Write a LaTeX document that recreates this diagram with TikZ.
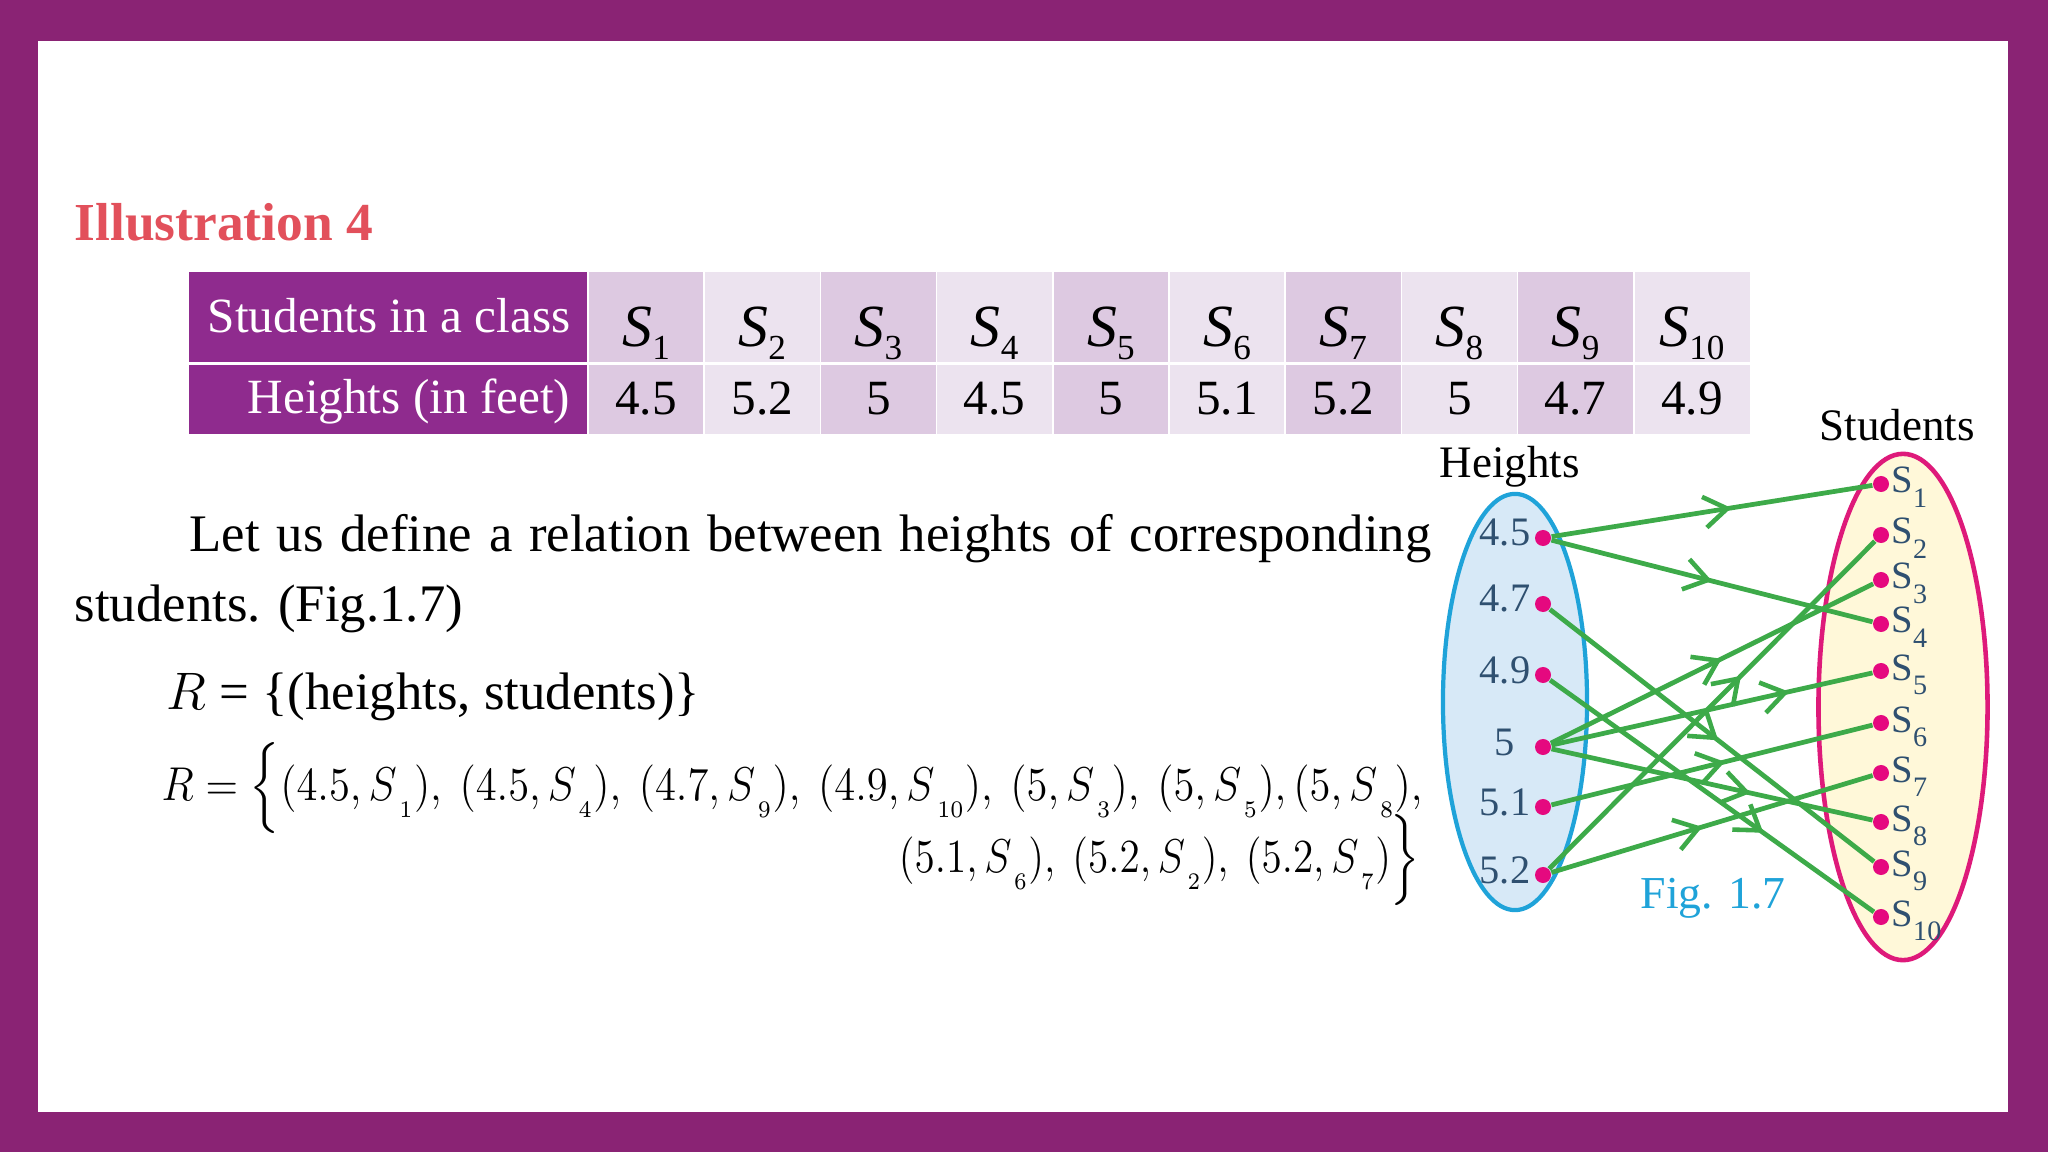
\RequirePackage{fix-cm}
\documentclass[tikz,border=0pt]{standalone}
\usepackage[no-math]{fontspec}
\setmainfont{Liberation Serif}
\usepackage{amsmath}
\usepackage{graphicx}
\usepackage{tikz}
\usetikzlibrary{positioning, calc, shapes.geometric, arrows.meta, decorations.markings}

\definecolor{frame}{HTML}{8A2374}
\definecolor{headpurple}{HTML}{8F2B8E}
\definecolor{lavdark}{HTML}{DDC9E1}
\definecolor{lavlight}{HTML}{ECE3EF}
\definecolor{titlered}{HTML}{E2505B}
\definecolor{relgreen}{HTML}{3DAA49}
\definecolor{dotpink}{HTML}{E5097F}
\definecolor{setblue}{HTML}{1FA3D9}
\definecolor{setbluefill}{HTML}{D7E9F7}
\definecolor{setpink}{HTML}{DE1A7A}
\definecolor{setyellow}{HTML}{FFF8D9}
\definecolor{slate}{HTML}{2F5070}

\newcommand{\tabS}[1]{\textit{S}\raisebox{-3.5pt}{\fontsize{10}{12}\selectfont #1}}
\newcommand{\setS}[1]{S\raisebox{-4pt}{\fontsize{8}{9}\selectfont #1}}
\newcommand{\relS}[1]{S_{\mkern3mu\raisebox{-3pt}{$\scriptscriptstyle #1$}}}

\begin{document}
\begin{tikzpicture}[
  x=0.01cm, y=-0.01cm,
  every node/.style={inner sep=0pt},
  headtext/.style={text=white, anchor=base east, font=\fontsize{14}{16}\selectfont},
  celltext/.style={anchor=base, font=\fontsize{14}{16}\selectfont},
  bodytext/.style={anchor=base west, font=\fontsize{15}{18}\selectfont},
  dot/.style={circle, fill=dotpink, minimum size=0.16cm},
  hlabel/.style={text=slate, anchor=base, font=\fontsize{11.5}{13}\selectfont},
  slabel/.style={text=slate, anchor=base west, font=\fontsize{11}{13}\selectfont},
  settitle/.style={anchor=base west, font=\fontsize{12.8}{15}\selectfont},
  rel/.style={
    relgreen,
    line width=1.35pt,
    postaction={decorate},
    decoration={markings,
      mark=at position #1 with {\arrow{Straight Barb[length=2.3mm, width=3.1mm, line width=1.3pt]}}},
  },
]
\useasboundingbox (0,0) rectangle (2048,1152);
% --- slide frame ---
\fill[frame] (0,0) rectangle (2048,1152);
\fill[white] (38,41) rectangle (2008,1112);

% --- heading ---
\node[anchor=base west, text=titlered, font=\fontsize{15.2}{18}\selectfont\bfseries] (title) at (74,241) {Illustration 4};

% --- table ---
\fill[headpurple] (189,272) rectangle (588,434);
\node[headtext] (hdrStudents) at (571,333) {Students in a class};
\node[headtext] (hdrHeights) at (571,414) {Heights (in feet)};
\foreach \i/\h in {1/4.5, 2/5.2, 3/5, 4/4.5, 5/5, 6/5.1, 7/5.2, 8/5, 9/4.7, 10/4.9} {
  \pgfmathsetmacro{\xl}{588+(\i-1)*116.2}
  \pgfmathtruncatemacro{\odd}{mod(\i,2)}
  \ifnum\odd=1 \colorlet{cellfill}{lavdark}\else\colorlet{cellfill}{lavlight}\fi
  \fill[cellfill] (\xl,272) rectangle ++(116.2,162);
  \draw[white, line width=0.5pt] (\xl,272) -- ++(0,162);
  \node[celltext, font=\fontsize{17}{19}\selectfont] (cS\i) at (\xl+58.1,347) {\tabS{\i}};
  \node[celltext] (cH\i) at (\xl+58.1,415) {\h};
}
\draw[white, line width=0.8pt] (189,363.5) -- (1750,363.5);

% --- text ---
\node[bodytext] (para1) at (189,551) {\makebox[12.41cm][s]{Let us define a relation between heights of corresponding}};
\node[bodytext] (para2) at (74,622) {students. (Fig.1.7)};
\node[bodytext] (rdef) at (166,709) {$R$ = \{(heights, students)\}};
% the set is squeezed sideways to the printed line length
\node[bodytext, font=\fontsize{13.5}{16}\selectfont] (rsetA) at (161,800) {\resizebox{12.6cm}{\height}{$R = \smash{\Bigl\{}(4.5,\relS{1}),\ (4.5,\relS{4}),\ (4.7,\relS{9}),\ (4.9,\relS{10}),\ (5,\relS{3}),\ (5,\relS{5}),(5,\relS{8}),$}};
\node[anchor=base east, font=\fontsize{13.5}{16}\selectfont] (rsetB) at (1421,872) {\resizebox{5.21cm}{\height}{$(5.1,\relS{6}),\ (5.2,\relS{2}),\ (5.2,\relS{7})\smash{\Bigr\}}$}};

% --- arrow diagram: heights -> students ---
\node[ellipse, draw=setblue, fill=setbluefill, line width=1.2pt, minimum width=1.44cm, minimum height=4.16cm] (heightset) at (1515,702) {};
\node[ellipse, draw=setpink, fill=setyellow, line width=1.3pt, minimum width=1.69cm, minimum height=5.06cm] (studentset) at (1903,707) {};
\node[settitle] (heightsttl) at (1439,478) {Heights};
\node[settitle] (studentsttl) at (1819,441) {Students};

\foreach \n/\t/\y in {a/4.5/538, b/4.7/604, c/4.9/675, d/5/747, e/5.1/807, f/5.2/875} {
  \node[dot] (ht-\n) at (1543,\y) {};
  \node[hlabel] (htl-\n) at (1505,\y+8) {\t};
}
\foreach \i/\y in {1/484, 2/535, 3/580, 4/624, 5/671, 6/723, 7/773, 8/822, 9/867, 10/917} {
  \node[dot] (st\i) at (1881,\y) {};
  \node[slabel] (stl\i) at ($(st\i)+(10,9)$) {\setS{\i}};
}

% relation pairs, arrowhead roughly half way along each
\draw[rel=0.56] (ht-a) -- (st1);
\draw[rel=0.50] (ht-a) -- (st4);
\draw[rel=0.52] (ht-b) -- (st9);
\draw[rel=0.66] (ht-c) -- (st10);
\draw[rel=0.53] (ht-d) -- (st3);
\draw[rel=0.74] (ht-d) -- (st5);
\draw[rel=0.62] (ht-d) -- (st8);
\draw[rel=0.54] (ht-e) -- (st6);
\draw[rel=0.59] (ht-f) -- (st2);
\draw[rel=0.47] (ht-f) -- (st7);

\node[anchor=base west, text=setblue, font=\fontsize{13}{15}\selectfont] (figcap) at (1640,908) {Fig. 1.7};
\end{tikzpicture}
\end{document}
